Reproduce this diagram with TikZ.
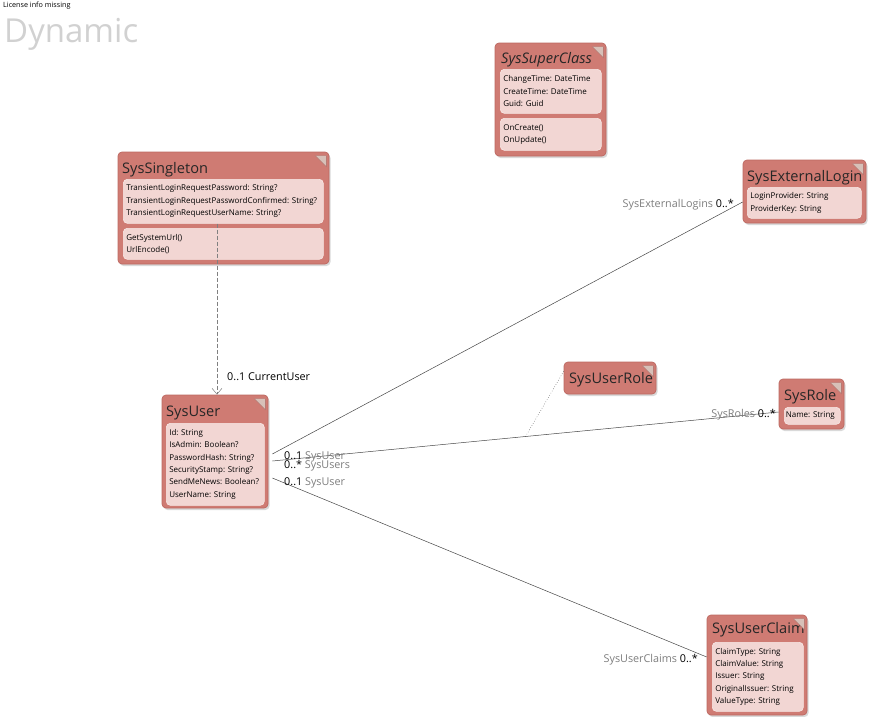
\documentclass[tikz,border=0pt]{standalone}
\usepackage{fontspec}
\setmainfont{Open Sans}
\frenchspacing
\usetikzlibrary{shadows,arrows.meta,calc}

\definecolor{classfill}{RGB}{207,123,115}
\definecolor{classdraw}{RGB}{188,104,97}
\definecolor{compfill}{RGB}{242,214,211}
\definecolor{compdraw}{RGB}{248,232,230}
\definecolor{cornerfill}{RGB}{215,192,184}
\definecolor{rolegray}{RGB}{125,125,125}
\definecolor{linkgray}{RGB}{70,70,70}

\begin{document}
\begin{tikzpicture}[x=1pt,y=-1pt,
  classbox/.style={draw=classdraw, fill=classfill, rounded corners=4pt, line width=0.7pt, inner sep=0pt,
    drop shadow={shadow xshift=1.5pt, shadow yshift=-2pt, opacity=0.3}},
  classname/.style={font=\fontsize{14.6}{14.6}\selectfont, text=black!85, inner sep=0pt, anchor=west},
  compartment/.style={draw=compdraw, fill=compfill, rounded corners=4pt, line width=0.6pt, anchor=north west,
    inner xsep=3pt, inner ysep=0pt, align=left, font=\fontsize{8}{12.4}\selectfont},
  corner/.style={fill=cornerfill, draw=classdraw!70!gray, line width=0.3pt},
  link/.style={draw=linkgray, line width=0.5pt},
  card/.style={font=\fontsize{10.8}{10.8}\selectfont, inner sep=0pt}]
\useasboundingbox (0,0) rectangle (871,716);

\node[anchor=west, inner sep=0pt, font=\fontsize{7.2}{7.2}\selectfont] (license) at (3,6) {License info missing};
\node[anchor=west, inner sep=0pt, text=black!18, font=\fontsize{33}{33}\selectfont] (dynamic) at (4,34) {Dynamic};

% classes
\node[classbox, minimum width=111, minimum height=113] (superclass) at (550.5,99.5) {};
\node[classname, font=\fontsize{14.6}{14.6}\selectfont\itshape] (superclassname) at (501,60) {SysSuperClass};
\node[compartment, text width=95, minimum height=44] (superclassattr) at (500,69)
  {ChangeTime: DateTime\\CreateTime: DateTime\\Guid: Guid};
\node[compartment, text width=95, minimum height=32] (superclassmeth) at (500,118)
  {OnCreate()\\OnUpdate()};

\node[classbox, minimum width=211, minimum height=112] (singleton) at (223.5,208) {};
\node[classname] (singletonname) at (122,170) {SysSingleton};
\node[compartment, text width=194, minimum height=44] (singletonattr) at (123,179)
  {TransientLoginRequestPassword: String?\\TransientLoginRequestPasswordConfirmed: String?\\TransientLoginRequestUserName: String?};
\node[compartment, text width=194, minimum height=31] (singletonmeth) at (123,228)
  {GetSystemUrl()\\UrlEncode()};

\node[classbox, minimum width=123, minimum height=63] (extlogin) at (804.5,191.5) {};
\node[classname] (extloginname) at (747,178) {SysExternalLogin};
\node[compartment, text width=108, minimum height=31] (extloginattr) at (747,187)
  {LoginProvider: String\\ProviderKey: String};

\node[classbox, minimum width=92, minimum height=32] (userrole) at (610,378) {};
\node[classname] (userrolename) at (569,380) {SysUserRole};

\node[classbox, minimum width=65, minimum height=50] (role) at (811.5,404) {};
\node[classname] (rolename) at (784,397) {SysRole};
\node[compartment, inner xsep=1.5pt, text width=53, minimum height=17] (roleattr) at (784,407) {Name: String};

\node[classbox, minimum width=106, minimum height=113] (user) at (215,451.5) {};
\node[classname] (username) at (166,413) {SysUser};
\node[compartment, text width=92, minimum height=82] (userattr) at (166,423)
  {Id: String\\IsAdmin: Boolean?\\PasswordHash: String?\\SecurityStamp: String?\\SendMeNews: Boolean?\\UserName: String};

\node[classbox, minimum width=100, minimum height=100] (claim) at (757,665) {};
\node[classname] (claimname) at (712,630) {SysUserClaim};
\node[compartment, text width=85, minimum height=69] (claimattr) at (712,642)
  {ClaimType: String\\ClaimValue: String\\Issuer: String\\OriginalIssuer: String\\ValueType: String};

\foreach \c in {superclass,singleton,extlogin,userrole,role,user,claim}
  \filldraw[corner] ([shift={(-14,4)}]\c.north east) -- ([shift={(-3,4)}]\c.north east)
    -- ([shift={(-3,15)}]\c.north east) -- cycle;

% associations
\draw[link, draw=gray, dash pattern=on 4pt off 2pt, -{Straight Barb[length=6pt,width=10pt]}]
  ([xshift=2]user.north |- singletonattr.south) -- ([xshift=2]user.north);
\node[card, anchor=west] (cardcurrent) at (227,377) {0..1 CurrentUser};

\draw[link] ([shift={(4,2.5)}]user.east) -- ([shift={(0,10.5)}]extlogin.west);
\node[card, anchor=east] (cardext) at (734,205) {\textcolor{rolegray}{SysExternalLogins} 0..*};

\draw[link] ([shift={(4,9.5)}]user.east) -- coordinate (rolemid) ([shift={(0,8)}]role.west);
\draw[link, dotted] (rolemid) -- ([shift={(1,8)}]userrole.north west);
\node[card, anchor=west] (carduser) at (284,457) {0..1 \textcolor{rolegray}{SysUser}};
\node[card, anchor=west] (cardusers) at (284,466) {0..* \textcolor{rolegray}{SysUsers}};
\node[card, anchor=east] (cardroles) at (776,415) {\textcolor{rolegray}{SysRoles} 0..*};

\draw[link] ([shift={(4,26.5)}]user.east) -- ([shift={(0,-8)}]claim.west);
\node[card, anchor=west] (carduserclaim) at (284,483) {0..1 \textcolor{rolegray}{SysUser}};
\node[card, anchor=east] (cardclaims) at (698,660) {\textcolor{rolegray}{SysUserClaims} 0..*};
\end{tikzpicture}
\end{document}
